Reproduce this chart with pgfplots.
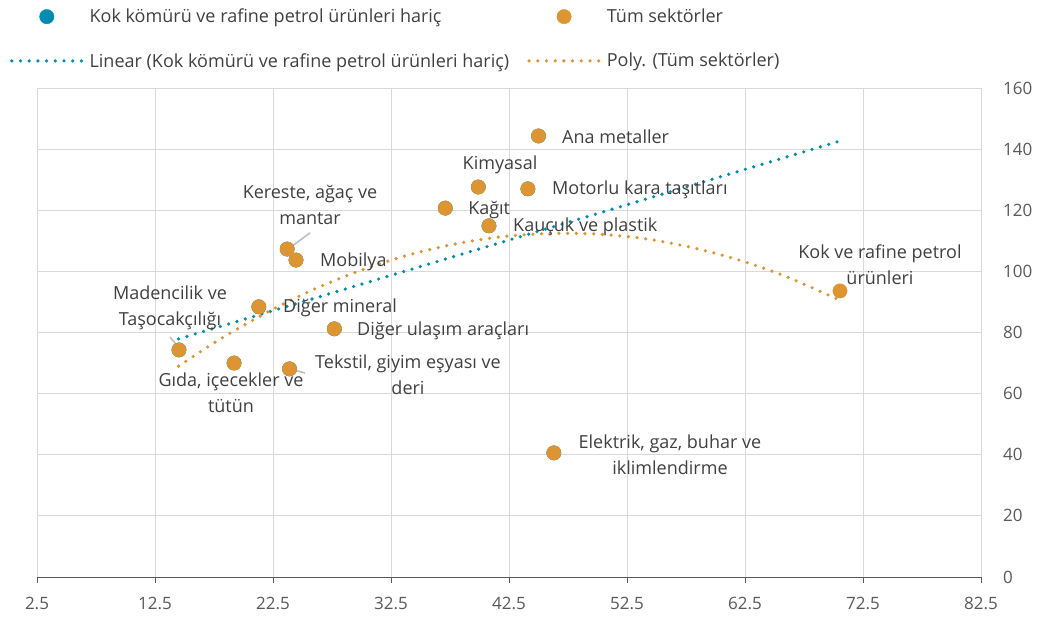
\documentclass[border=0pt]{standalone}
\usepackage{pgfplots}
\pgfplotsset{compat=1.18}
\usepackage{fontspec}
\setmainfont{Open Sans}
\definecolor{cOr}{RGB}{221,149,51}
\definecolor{cBl}{RGB}{0,140,176}
\definecolor{cGrid}{RGB}{217,217,217}
\definecolor{cTxt}{RGB}{64,64,64}
\definecolor{cAx}{RGB}{89,89,89}
\definecolor{cLead}{RGB}{191,191,191}
\tikzset{lbl/.style={font=\fontsize{18}{26}\selectfont, text=cTxt, inner sep=0pt, align=center}}
\begin{document}
\begin{tikzpicture}
\begin{axis}[
 scale only axis, width=944pt, height=489pt,
 xmin=2.5, xmax=82.5, ymin=0, ymax=160,
 xtick={2.5,12.5,...,82.5}, ytick={0,20,...,160},
 axis x line*=bottom, axis y line*=right,
 y axis line style={draw=none},
 x axis line style={cAx, line width=0.8pt, -},
 xtick style={cAx, line width=0.8pt}, ytick style={draw=none},
 tick align=outside, major tick length=6pt,
 grid=major, major grid style={cGrid, line width=0.9pt},
 ticklabel style={font=\fontsize{17}{20}\selectfont, text=cAx},
 /pgf/number format/assume math mode=true,
 yticklabel style={anchor=west, inner sep=0pt, xshift=16pt},
 xticklabel style={anchor=north, inner sep=0pt, yshift=-14pt},
 clip=false,
 legend columns=2,
 legend cell align=left,
 legend style={at={(0,1)}, anchor=north west, xshift=-27pt, yshift=79pt,
   draw=none, fill=none, inner sep=0pt, outer sep=0pt,
   font=\fontsize{18}{21}\selectfont, text=cTxt,
   nodes={inner sep=0pt}, row sep=29pt,
   /tikz/every odd column/.style={column sep=6pt},
   /tikz/every even column/.style={column sep=18pt}},
 legend image code/.code={\draw[mark repeat=2,mark phase=2,#1] plot coordinates {(0pt,0pt) (35pt,0pt) (70pt,0pt)};},
]
% series excluding coke and refined petroleum (hidden beneath the orange points)
\addplot[only marks, mark=*, mark size=7.2pt, color=cBl] coordinates {
 (14.53,74.3) (19.2,70.0) (21.3,88.4) (23.7,107.3) (24.45,103.7) (23.9,68.1)
 (27.7,81.2) (37.1,120.7) (39.9,127.6) (40.8,114.9) (44.1,127.0) (45.0,144.3) (46.3,40.6)};
\addlegendentry{Kok kömürü ve rafine petrol ürünleri hariç}
% all sectors
\addplot[only marks, mark=*, mark size=7.2pt, color=cOr] coordinates {
 (14.53,74.3) (19.2,70.0) (21.3,88.4) (23.7,107.3) (24.45,103.7) (23.9,68.1)
 (27.7,81.2) (37.1,120.7) (39.9,127.6) (40.8,114.9) (44.1,127.0) (45.0,144.3) (46.3,40.6)
 (70.55,93.6)};
\addlegendentry{Tüm sektörler}
% linear trend
\addplot[cBl, line width=3.6pt, line cap=round, dash pattern=on 0pt off 8.7pt] coordinates {
 (14.5,77.9) (70.5,142.6)};
\addlegendentry{Linear (Kok kömürü ve rafine petrol ürünleri hariç)}
% polynomial trend
\addplot[cOr, line width=3.6pt, line cap=round, dash pattern=on 0pt off 8.7pt, smooth] coordinates {
 (14.5,69.0) (18,77.8) (22,86.6) (26,94.2) (30,100.4) (34,105.4) (38,109.0)
 (42,111.4) (46,112.4) (50,112.2) (54,110.7) (58,107.8) (62,103.7) (66,98.3) (70.5,90.6)};
\addlegendentry{Poly. (Tüm sektörler)}
% leader lines
\draw[cLead, line width=1.6pt] (axis cs:13.77,78.5) -- (axis cs:14.62,74.6);
\draw[cLead, line width=1.6pt] (axis cs:25.64,112.6) -- (axis cs:23.77,107.3);
\draw[cLead, line width=1.6pt] (axis cs:23.94,68.1) -- (axis cs:25.21,66.75);
% data labels
\node[lbl] at (axis cs:25.64,121.7) {Kereste, ağaç ve\\mantar};
\node[lbl, anchor=west] at (axis cs:26.48,103.1) {Mobilya};
\node[lbl] at (axis cs:13.77,88.2) {Madencilik ve\\Taşocakçılığı};
\node[lbl, anchor=west] at (axis cs:23.35,88.0) {Diğer mineral};
\node[lbl, anchor=west] at (axis cs:29.62,80.5) {Diğer ulaşım araçları};
\node[lbl] at (axis cs:18.94,60.4) {Gıda, içecekler ve\\tütün};
\node[lbl] at (axis cs:33.94,66.3) {Tekstil, giyim eşyası ve\\deri};
\node[lbl, anchor=west] at (axis cs:39.03,120.1) {Kağıt};
\node[lbl] at (axis cs:41.74,134.8) {Kimyasal};
\node[lbl, anchor=west] at (axis cs:42.84,114.5) {Kauçuk ve plastik};
\node[lbl, anchor=west] at (axis cs:46.14,126.6) {Motorlu kara taşıtları};
\node[lbl, anchor=west] at (axis cs:46.99,144.0) {Ana metaller};
\node[lbl] at (axis cs:56.14,40.1) {Elektrik, gaz, buhar ve\\iklimlendirme};
\node[lbl] at (axis cs:73.94,102.3) {Kok ve rafine petrol\\ürünleri};
\end{axis}
\pgfresetboundingbox
\path (-37pt,-41pt) rectangle (1001pt,577pt);
\end{tikzpicture}
\end{document}
